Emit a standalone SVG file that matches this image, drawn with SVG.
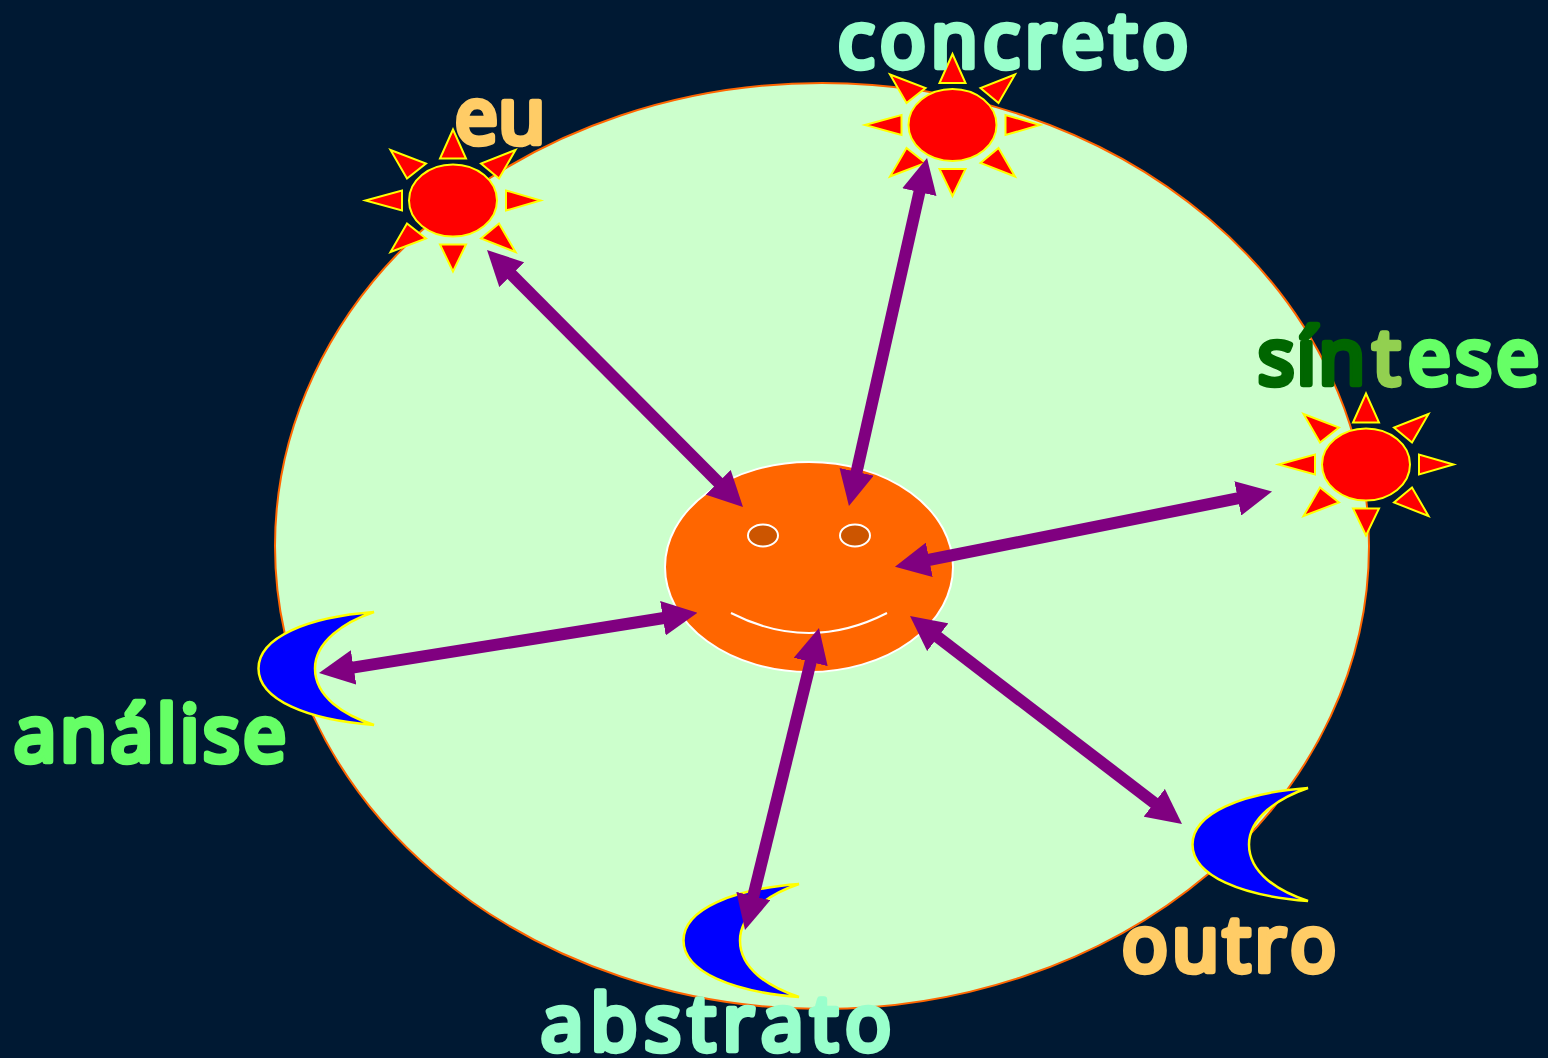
<svg xmlns="http://www.w3.org/2000/svg" width="1548" height="1058" viewBox="0 0 1548 1058">
<style>
.lbl{font-family:"Open Sans","Noto Sans",sans-serif;font-weight:400;font-size:76px;stroke-width:6.5px;stroke-linejoin:round;stroke-linecap:round;paint-order:stroke}
.ray{fill:#ff0000;stroke:#ffff00;stroke-width:2}
.disc{fill:#ff0000;stroke:#ffff00;stroke-width:2}
.moon{fill:#0000ff;stroke:#ffff00;stroke-width:2.5}
.conn{stroke:#800080;stroke-width:12;fill:none;marker-start:url(#head);marker-end:url(#head)}
.eye{fill:#cc5500;stroke:#ffffff;stroke-width:2}
</style>
<defs>
<marker id="head" markerUnits="userSpaceOnUse" viewBox="0 0 35 35" markerWidth="35" markerHeight="35" refX="1" refY="17.5" orient="auto-start-reverse"><path d="M0,0L35,17.5L0,35Z" fill="#800080"/></marker>
<g id="sun">
<ellipse class="disc" cx="0" cy="0" rx="44" ry="36"/>
<path class="ray" d="M0,-71L-13,-42H13Z"/>
<path class="ray" d="M0,71L-13,44H13Z"/>
<path class="ray" d="M-87.5,0L-51,-10V10Z"/>
<path class="ray" d="M87.5,0L53,-10V10Z"/>
<path class="ray" d="M-62.5,-50.5L-27,-37L-46,-22Z"/>
<path class="ray" d="M62.5,-50.5L28,-37L46,-22Z"/>
<path class="ray" d="M-62.5,51.5L-27,38L-46,23Z"/>
<path class="ray" d="M62.5,51.5L28,38L46,23Z"/>
</g>
<path id="crescent" class="moon" d="M116,0C50,5 0.5,25 0.5,56.5C0.5,88 50,108 116,113C86,103 57,85 57,56.5C57,30 86,10 116,0Z"/>
</defs>
<rect width="1548" height="1058" fill="#001933"/>
<ellipse id="field" cx="822" cy="546" rx="547" ry="463" fill="#ccffcc" stroke="#ff6600" stroke-width="2"/>
<g id="eu"><use href="#sun" x="453" y="200.5"/><text class="lbl" x="455" y="143" textLength="90" fill="#ffcc66" stroke="#ffcc66">eu</text></g>
<g id="concreto"><use href="#sun" x="952.5" y="125"/><text class="lbl" x="838" y="67" textLength="350" fill="#99ffcc" stroke="#99ffcc">concreto</text></g>
<g id="sintese"><use href="#sun" x="1366" y="464.5"/>
<text class="lbl" x="1258" y="384" textLength="107" fill="#006600" stroke="#006600">sín</text>
<text class="lbl" x="1373" y="384" textLength="34" fill="#92d050" stroke="#92d050">t</text>
<text class="lbl" x="1408" y="384" textLength="131" fill="#66ff66" stroke="#66ff66">ese</text></g>
<g id="analise"><use href="#crescent" x="258" y="612"/><text class="lbl" x="14" y="761" textLength="272" fill="#66ff66" stroke="#66ff66">análise</text></g>
<g id="abstrato"><use href="#crescent" x="683" y="884"/><text class="lbl" x="541" y="1050" textLength="350" fill="#99ffcc" stroke="#99ffcc">abstrato</text></g>
<g id="outro"><use href="#crescent" x="1192" y="788"/><text class="lbl" x="1122" y="971" textLength="214" fill="#ffcc66" stroke="#ffcc66">outro</text></g>
<g id="eu-center">
<ellipse cx="809" cy="567" rx="144" ry="105" fill="#ff6600" stroke="#ffffff" stroke-width="2"/>
<ellipse class="eye" cx="763" cy="535.5" rx="15" ry="11"/>
<ellipse class="eye" cx="855" cy="535.5" rx="15" ry="11"/>
<path d="M731,613Q809,653 887,613" fill="none" stroke="#ffffff" stroke-width="2"/>
</g>
<g id="connectors">
<line class="conn" x1="511" y1="274" x2="719" y2="483"/>
<line class="conn" x1="919.6" y1="191.2" x2="856.4" y2="472.8"/>
<line class="conn" x1="1238.7" y1="498.2" x2="928.3" y2="560"/>
<line class="conn" x1="1155" y1="803.4" x2="937" y2="636.6"/>
<line class="conn" x1="810.9" y1="661" x2="753.1" y2="897"/>
<line class="conn" x1="663.9" y1="618" x2="352.6" y2="667.6"/>
</g>
</svg>
